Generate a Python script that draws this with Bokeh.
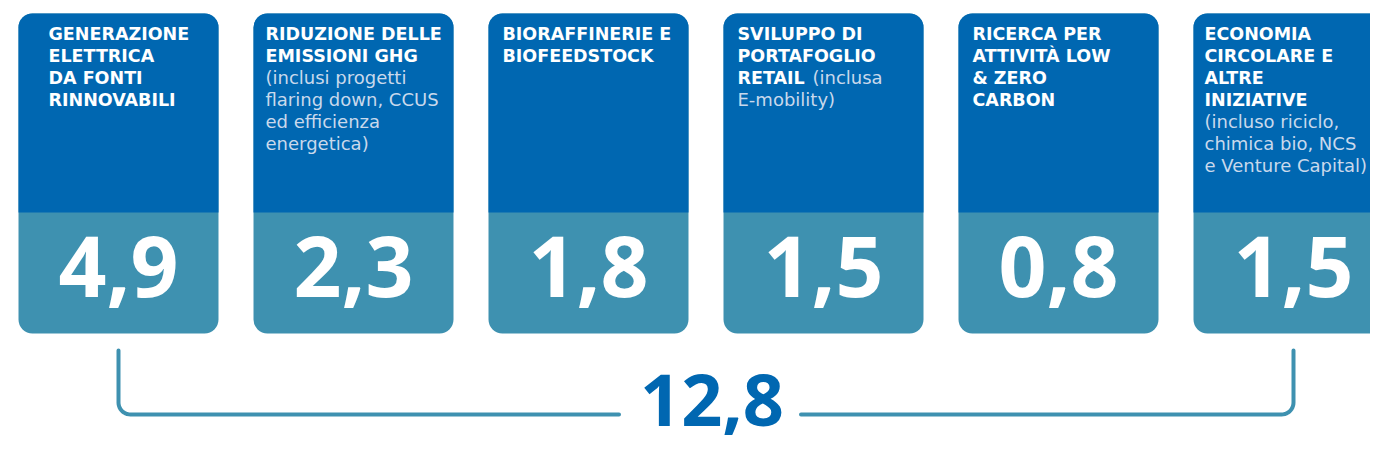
from bokeh.plotting import figure
from bokeh.models import Range1d
from bokeh.core.properties import value
from bokeh.embed import file_html
from bokeh.resources import INLINE
import numpy as np

# ---------------- data ----------------
titles_bold = [
    ["GENERAZIONE", "ELETTRICA", "DA FONTI", "RINNOVABILI"],
    ["RIDUZIONE DELLE", "EMISSIONI GHG"],
    ["BIORAFFINERIE E", "BIOFEEDSTOCK"],
    ["SVILUPPO DI", "PORTAFOGLIO", "RETAIL"],
    ["RICERCA PER", "ATTIVITÀ LOW", "& ZERO", "CARBON"],
    ["ECONOMIA", "CIRCOLARE E", "ALTRE", "INIZIATIVE"],
]
notes = [
    [],
    ["(inclusi progetti", "flaring down, CCUS", "ed efficienza", "energetica)"],
    [],
    ["(inclusa", "E-mobility)"],
    [],
    ["(incluso riciclo,", "chimica bio, NCS", "e Venture Capital)"],
]
note_inline = [False, False, False, True, False, False]
values = [4.9, 2.3, 1.8, 1.5, 0.8, 1.5]
total = 12.8

# ---------------- layout / style ----------------
DARK = "#0067B1"
TEAL = "#3E91B0"
NOTE_COL = "#c9d9ec"
X0, PITCH, CW = 18, 235, 200
TOP, SPLIT, BOT, RAD = 13, 212, 333, 14
PADS = [30, 12, 14, 14, 14, 11]
LINE0, LH = 40, 22
TITLE_SIZE, NOTE_SIZE = 17.5, 18
INLINE_OFF = 75
NUM_Y, NUM_SIZE = 299, 84
BR_TOP, BR_Y, BR_R = 350, 414, 12
TOT_Y, TOT_SIZE = 428, 72
TOTAL_SHIFT = 6
GAP_L, GAP_R = 93, 89
BASE_K = 0.39  # baseline correction of svg text (fraction of font size)

def fmt(v):
    return f"{v:.1f}".replace(".", ",")

def base(y, size):
    return y - BASE_K * size

n = len(values)
lefts = [X0 + i * PITCH for i in range(n)]
rights = [l + CW for l in lefts]
centers = [l + CW / 2 for l in lefts]

p = figure(width=1370, height=448, x_range=Range1d(0, 1370), y_range=Range1d(448, 0),
           x_axis_type=None, y_axis_type=None, toolbar_location=None,
           output_backend="svg", min_border=0, outline_line_color=None,
           background_fill_color="white", border_fill_color="white")
p.xgrid.visible = False
p.ygrid.visible = False

# cards
p.quad(left=lefts, right=rights, top=[TOP] * n, bottom=[BOT] * n,
       fill_color=TEAL, line_color=None, border_radius=RAD)
p.quad(left=lefts, right=rights, top=[TOP] * n, bottom=[SPLIT] * n,
       fill_color=DARK, line_color=None, border_radius=(RAD, RAD, 0, 0))

# titles
bx, by, bt = [], [], []
nx, ny, nt = [], [], []
for i in range(n):
    for j, t in enumerate(titles_bold[i]):
        bx.append(lefts[i] + PADS[i]); by.append(base(LINE0 + j * LH, TITLE_SIZE)); bt.append(t)
    start = len(titles_bold[i]) - (1 if note_inline[i] else 0)
    for j, t in enumerate(notes[i]):
        off = INLINE_OFF if (note_inline[i] and j == 0) else 0
        nx.append(lefts[i] + PADS[i] + off); ny.append(base(LINE0 + (start + j) * LH, NOTE_SIZE)); nt.append(t)

p.text(x=bx, y=by, text=bt, text_color="white", text_font=value("DejaVu Sans"),
       text_font_style="bold", text_font_size=f"{TITLE_SIZE}px", text_baseline="alphabetic",
       text_align="left")
p.text(x=nx, y=ny, text=nt, text_color=NOTE_COL, text_font=value("DejaVu Sans"),
       text_font_style="normal", text_font_size=f"{NOTE_SIZE}px", text_baseline="alphabetic",
       text_align="left")

# values
p.text(x=centers, y=[base(NUM_Y, NUM_SIZE)] * n, text=[fmt(v) for v in values],
       text_color="white", text_font=value("Open Sans"), text_font_style="bold",
       text_font_size=f"{NUM_SIZE}px", text_baseline="alphabetic", text_align="center")

# bracket
L, R = centers[0], centers[-1]
mid = (L + R) / 2 + TOTAL_SHIFT
th = np.linspace(np.pi, np.pi / 2, 12)
lx = [L, L] + list(L + BR_R + BR_R * np.cos(th)) + [mid - GAP_L]
ly = [BR_TOP, BR_Y - BR_R] + list(BR_Y - BR_R + BR_R * np.sin(th)) + [BR_Y]
th2 = np.linspace(np.pi / 2, 0, 12)
rx = [mid + GAP_R] + list(R - BR_R + BR_R * np.cos(th2)) + [R, R]
ry = [BR_Y] + list(BR_Y - BR_R + BR_R * np.sin(th2)) + [BR_Y - BR_R, BR_TOP]
p.line(lx, ly, line_color=TEAL, line_width=4, line_cap="round", line_join="round")
p.line(rx, ry, line_color=TEAL, line_width=4, line_cap="round", line_join="round")

p.text(x=[mid], y=[base(TOT_Y, TOT_SIZE)], text=[fmt(total)], text_color=DARK,
       text_font=value("Open Sans"), text_font_style="bold", text_font_size=f"{TOT_SIZE}px",
       text_baseline="alphabetic", text_align="center")

open("out.html", "w").write(file_html(p, INLINE))
